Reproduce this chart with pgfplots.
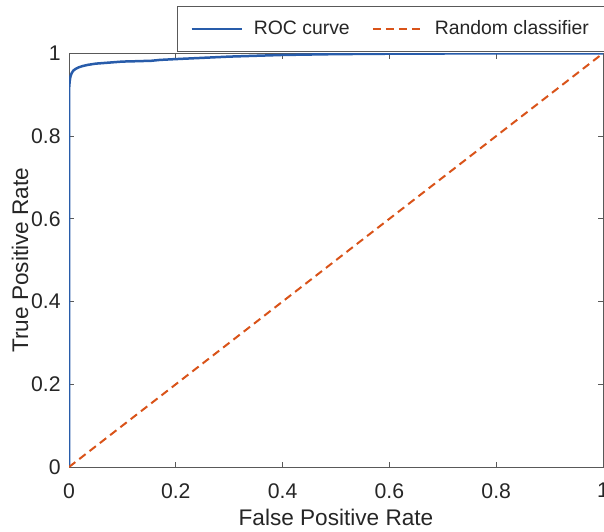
\documentclass[border=0pt]{standalone}
\usepackage{fontspec}
\setmainfont{Liberation Sans}
\usepackage{pgfplots}
\pgfplotsset{compat=1.18}
\definecolor{rocblue}{RGB}{40,92,170}
\definecolor{randorange}{RGB}{217,83,25}
\definecolor{axgray}{RGB}{38,38,38}

\begin{document}
\begin{tikzpicture}
\begin{axis}[
  scale only axis,
  width=267pt, height=206.85pt,
  xmin=0, xmax=1, ymin=0, ymax=1,
  xtick={0,0.2,0.4,0.6,0.8,1},
  ytick={0,0.2,0.4,0.6,0.8,1},
  /pgf/number format/assume math mode=true,
  tick align=inside,
  major tick length=2.7pt,
  axis line style={black!65, line width=0.5pt},
  every tick/.style={black!65, line width=0.5pt},
  ticklabel style={font=\fontsize{10.6}{12}\selectfont, text=axgray},
  xticklabel style={anchor=north, inner sep=0pt, yshift=-8pt},
  yticklabel style={anchor=east, inner sep=0pt, xshift=-4pt},
  xlabel={False Positive Rate},
  ylabel={True Positive Rate},
  label style={font=\fontsize{11.3}{13}\selectfont, text=axgray},
  xlabel style={at={(axis description cs:0.5,0)}, anchor=center, yshift=-25pt},
  ylabel style={at={([xshift=-24.5pt]axis description cs:0,0.5)}, anchor=center},
  legend columns=2,
  legend style={
    at={(0.202,1.114)}, anchor=north west,
    draw=black!65, line width=0.5pt, fill=white,
    font=\fontsize{9.7}{11}\selectfont, text=axgray,
    inner xsep=6.5pt, inner ysep=5pt,
    /tikz/every even column/.append style={column sep=9pt},
  },
  legend cell align=left,
  legend image code/.code={\draw[#1] (0pt,0pt) -- (25pt,0pt); \path (28.5pt,0pt);},
]
\addplot[rocblue, line width=1.25pt] coordinates {
  (0,0) (0,0.5) (0,0.85) (0,0.90) (0.0005,0.92) (0.0015,0.935)
  (0.003,0.945) (0.005,0.952) (0.008,0.958) (0.012,0.962)
  (0.018,0.966) (0.025,0.969) (0.035,0.972) (0.05,0.975)
  (0.07,0.977) (0.1,0.980) (0.13,0.981) (0.155,0.982) (0.17,0.984)
  (0.2,0.986) (0.25,0.989) (0.3,0.992) (0.35,0.994) (0.4,0.996)
  (0.45,0.997) (0.5,0.998) (0.6,0.999) (0.7,0.9995) (0.8,1) (1,1)
};
\addlegendentry{ROC curve}
\addplot[randorange, line width=1pt, dash pattern=on 4pt off 2.5pt] coordinates {
  (0,0) (1,1)
};
\addlegendentry{Random classifier}
\end{axis}
\pgfresetboundingbox
\path[use as bounding box] (-34.5pt,-32pt) rectangle (267.5pt,233.5pt);
\end{tikzpicture}
\end{document}
